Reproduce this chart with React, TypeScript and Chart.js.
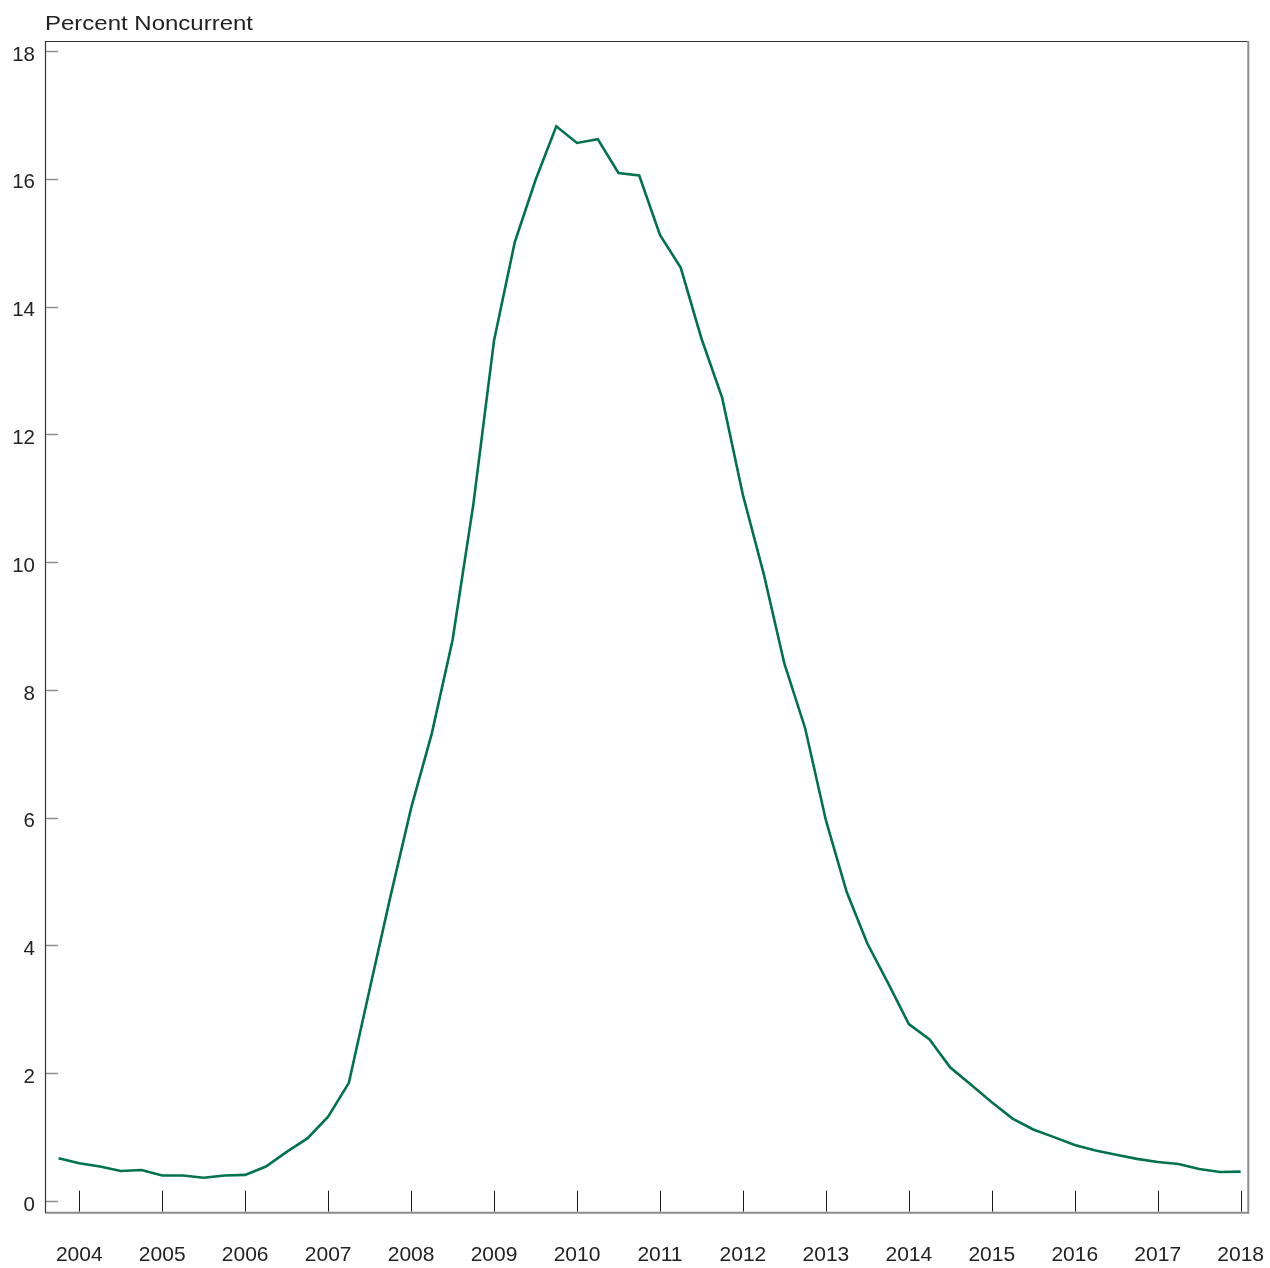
import React, { useEffect, useRef } from "react";
import { Chart, registerables } from "chart.js";

Chart.register(...registerables);

const quarters = [
  "2003Q4",
  "2004Q1", "2004Q2", "2004Q3", "2004Q4",
  "2005Q1", "2005Q2", "2005Q3", "2005Q4",
  "2006Q1", "2006Q2", "2006Q3", "2006Q4",
  "2007Q1", "2007Q2", "2007Q3", "2007Q4",
  "2008Q1", "2008Q2", "2008Q3", "2008Q4",
  "2009Q1", "2009Q2", "2009Q3", "2009Q4",
  "2010Q1", "2010Q2", "2010Q3", "2010Q4",
  "2011Q1", "2011Q2", "2011Q3", "2011Q4",
  "2012Q1", "2012Q2", "2012Q3", "2012Q4",
  "2013Q1", "2013Q2", "2013Q3", "2013Q4",
  "2014Q1", "2014Q2", "2014Q3", "2014Q4",
  "2015Q1", "2015Q2", "2015Q3", "2015Q4",
  "2016Q1", "2016Q2", "2016Q3", "2016Q4",
  "2017Q1", "2017Q2", "2017Q3", "2017Q4",
  "2018Q1",
];

const percentNoncurrent = [
  0.67,
  0.59, 0.54, 0.47, 0.485,
  0.40, 0.40, 0.365, 0.40,
  0.41, 0.54, 0.77, 0.98,
  1.32, 1.85, 3.31, 4.76,
  6.15, 7.32, 8.78, 10.9,
  13.47, 15.01, 15.98, 16.82,
  16.56, 16.62, 16.09, 16.05,
  15.12, 14.61, 13.50, 12.57,
  11.05, 9.82, 8.41, 7.40,
  5.96, 4.84, 4.03, 3.41,
  2.77, 2.53, 2.09, 1.82,
  1.545, 1.29, 1.12, 1.00,
  0.876, 0.79, 0.725, 0.66,
  0.61, 0.58, 0.50, 0.455,
  0.46,
];

const yearTicks = [2004, 2005, 2006, 2007, 2008, 2009, 2010, 2011, 2012, 2013, 2014, 2015, 2016, 2017, 2018];
const valueTicks = [0, 2, 4, 6, 8, 10, 12, 14, 16, 18];
const axisTitle = "Percent Noncurrent";

const FONT = "'Liberation Sans', Arial, Helvetica, sans-serif";
const LINE_COLOR = "#00734b";
const TEXT_COLOR = "#222222";

function quarterToYear(q: string): number {
  const [y, n] = q.split("Q");
  return Number(y) + (Number(n) - 1) * 0.25;
}

const framePlugin = {
  id: "frameAndTicks",
  afterDraw(chart: any) {
    const { ctx, chartArea, scales } = chart;
    const { left, right, top, bottom } = chartArea;
    ctx.save();
    const line = (x1: number, y1: number, x2: number, y2: number) => {
      ctx.beginPath();
      ctx.moveTo(x1, y1);
      ctx.lineTo(x2, y2);
      ctx.stroke();
    };
    // y ticks (inside)
    ctx.strokeStyle = "#8c8c8c";
    ctx.lineWidth = 1.5;
    valueTicks.forEach((v) => {
      const y = Math.round(scales.y.getPixelForValue(v)) + 0.5;
      line(left, y, left + 13, y);
    });
    // x ticks (inside, from bottom)
    ctx.strokeStyle = "#1a1a1a";
    ctx.lineWidth = 1;
    yearTicks.forEach((yr) => {
      const x = Math.round(scales.x.getPixelForValue(yr)) + 0.5;
      line(x, bottom, x, bottom - 21);
    });
    // frame
    ctx.strokeStyle = "#8c8c8c";
    ctx.lineWidth = 2;
    line(left, bottom + 1, right + 1, bottom + 1);
    line(right + 1, top, right + 1, bottom + 2);
    ctx.strokeStyle = "#333333";
    ctx.lineWidth = 1.2;
    line(left, top + 0.5, right, top + 0.5);
    line(left + 0.5, top, left + 0.5, bottom + 1);

    // title
    ctx.fillStyle = TEXT_COLOR;
    ctx.font = `21px ${FONT}`;
    ctx.textAlign = "left";
    ctx.textBaseline = "alphabetic";
    const w = ctx.measureText(axisTitle).width;
    const sx = 208 / w;
    ctx.translate(45, 30);
    ctx.scale(sx, 1);
    ctx.fillText(axisTitle, 0, 0);
    ctx.restore();
  },
};

function zeroPad(s: any) {
  s.paddingLeft = 0;
  s.paddingRight = 0;
  s.paddingTop = 0;
  s.paddingBottom = 0;
}

export default function App() {
  const canvasRef = useRef<HTMLCanvasElement | null>(null);

  useEffect(() => {
    const canvas = canvasRef.current;
    if (!canvas) return;
    const data = quarters.map((q, i) => ({ x: quarterToYear(q), y: percentNoncurrent[i] }));
    const chart = new Chart(canvas, {
      type: "line",
      data: {
        datasets: [
          {
            data,
            borderColor: LINE_COLOR,
            borderWidth: 2.6,
            pointRadius: 0,
            tension: 0,
            fill: false,
          },
        ],
      },
      options: {
        animation: false,
        responsive: false,
        maintainAspectRatio: false,
        layout: { padding: { left: 0, right: 22.7, top: 41, bottom: 0 } },
        plugins: {
          legend: { display: false },
          tooltip: { enabled: false },
          title: { display: false },
        },
        scales: {
          x: {
            type: "linear",
            min: 2003.587,
            max: 2018.08,
            grid: { display: false, drawTicks: false },
            border: { display: false },
            afterBuildTicks: (s: any) => {
              s.ticks = yearTicks.map((v) => ({ value: v }));
            },
            afterFit: (s: any) => {
              s.height = 56.3;
              zeroPad(s);
            },
            ticks: {
              autoSkip: false,
              maxRotation: 0,
              padding: 31,
              color: TEXT_COLOR,
              font: { family: FONT, size: 21 },
              callback: (v: any) => String(v),
            },
          },
          y: {
            min: -0.167,
            max: 18.156,
            grid: { display: false, drawTicks: false },
            border: { display: false },
            afterBuildTicks: (s: any) => {
              s.ticks = valueTicks.map((v) => ({ value: v }));
            },
            afterFit: (s: any) => {
              s.width = 45;
              zeroPad(s);
            },
            ticks: {
              padding: 10,
              labelOffset: 4,
              color: TEXT_COLOR,
              font: { family: FONT, size: 20.5 },
              callback: (v: any) => String(v),
            },
          },
        },
      },
      plugins: [framePlugin],
    });
    return () => chart.destroy();
  }, []);

  return (
    <div style={{ position: "absolute", left: 0, top: 0, width: 1270, height: 1268, background: "#ffffff" }}>
      <canvas ref={canvasRef} width={1270} height={1268} style={{ display: "block" }} />
    </div>
  );
}
